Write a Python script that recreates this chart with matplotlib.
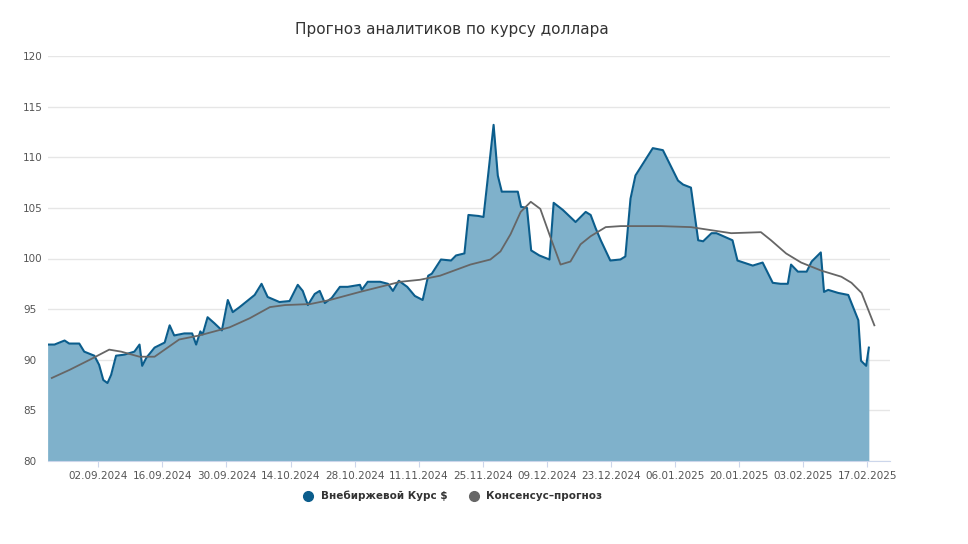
import numpy as np
import matplotlib.pyplot as plt
from matplotlib.lines import Line2D

# dates as day offsets from 2024-09-02
rate_days = [-11.1, -9.6, -7.4, -6.4, -4.2, -3.1, -0.9, 0.2, 1.1, 2.0, 2.8, 3.9, 5.7, 7.9, 9.0, 9.6,
             10.5, 12.3, 14.5, 15.6, 16.6, 18.8, 20.5, 21.4, 22.3, 22.8, 23.9, 25.4, 27.0, 28.3, 29.4,
             30.9, 34.2, 35.7, 37.0, 39.6, 41.8, 43.6, 44.7, 45.8, 47.3, 48.4, 49.5, 51.0, 52.8, 54.5,
             57.2, 57.6, 58.9, 61.6, 63.3, 64.4, 65.7, 67.5, 69.2, 70.9, 72.1, 72.9, 74.9, 77.1, 78.2,
             80.0, 80.9, 83.1, 84.2, 85.3, 86.4, 87.3, 88.2, 91.7, 92.4, 93.7, 94.6, 96.4, 98.6, 99.5,
             101.5, 104.3, 106.5, 107.6, 108.7, 109.8, 111.9, 114.1, 115.2, 116.3, 117.4, 121.2, 123.4,
             126.7, 127.8, 129.5, 131.1, 132.2, 134.0, 135.1, 138.6, 139.7, 143.0, 145.2, 147.4, 149.1,
             150.7, 151.4, 152.9, 154.8, 155.9, 157.9, 158.6, 159.5, 161.7, 163.9, 166.1, 166.7, 167.8,
             168.4, 169.3]
rate = [91.5, 91.5, 91.9, 91.6, 91.6, 90.8, 90.4, 89.5, 88.0, 87.7, 88.5, 90.4, 90.5, 90.8, 91.5,
        89.4, 90.2, 91.2, 91.7, 93.4, 92.4, 92.6, 92.6, 91.5, 92.8, 92.5, 94.2, 93.6, 92.9, 95.9,
        94.7, 95.2, 96.4, 97.5, 96.2, 95.7, 95.8, 97.4, 96.8, 95.4, 96.5, 96.8, 95.6, 96.1, 97.2,
        97.2, 97.4, 96.9, 97.7, 97.7, 97.5, 96.8, 97.8, 97.2, 96.3, 95.9, 98.3, 98.5, 99.9, 99.8,
        100.3, 100.5, 104.3, 104.2, 104.1, 108.7, 113.2, 108.2, 106.6, 106.6, 105.1, 105.0, 100.8,
        100.3, 99.9, 105.5, 104.8, 103.6, 104.6, 104.3, 103.0, 101.8, 99.8, 99.9, 100.2, 105.9,
        108.2, 110.9, 110.7, 107.7, 107.3, 107.0, 101.8, 101.7, 102.5, 102.5, 101.8, 99.8, 99.3,
        99.6, 97.6, 97.5, 97.5, 99.4, 98.7, 98.7, 99.7, 100.6, 96.7, 96.9, 96.6, 96.4, 93.9, 89.9,
        89.4, 91.2]

cons_days = [-10.2, -6.3, -1.9, 2.4, 5.0, 9.0, 12.3, 14.5, 17.7, 22.1, 28.7, 33.1, 37.5, 40.8, 46.3,
             50.6, 57.2, 61.6, 66.0, 70.3, 74.7, 81.3, 85.7, 87.9, 90.1, 92.3, 94.5, 96.6, 98.8, 101.0,
             103.2, 105.4, 107.6, 110.9, 114.2, 122.9, 129.5, 133.9, 138.3, 144.8, 147.0, 150.3, 153.6,
             158.0, 162.4, 164.6, 166.8, 169.6]
consensus = [88.2, 89.0, 90.0, 91.0, 90.8, 90.3, 90.3, 91.0, 92.0, 92.4, 93.2, 94.1, 95.2, 95.4, 95.5,
             95.9, 96.7, 97.2, 97.7, 97.9, 98.3, 99.4, 99.9, 100.7, 102.4, 104.6, 105.6, 104.9, 102.1,
             99.4, 99.7, 101.4, 102.2, 103.1, 103.2, 103.2, 103.1, 102.8, 102.5, 102.6, 101.8, 100.5,
             99.6, 98.8, 98.2, 97.6, 96.6, 93.4]

tick_labels = ["02.09.2024", "16.09.2024", "30.09.2024", "14.10.2024", "28.10.2024", "11.11.2024",
               "25.11.2024", "09.12.2024", "23.12.2024", "06.01.2025", "20.01.2025", "03.02.2025",
               "17.02.2025"]

n = min(len(rate_days), len(rate))
rate_days, rate = rate_days[:n], rate[:n]

base = np.datetime64("2024-09-02")
rd = base + (np.array(rate_days) * 24).astype("timedelta64[h]")
cd = base + (np.array(cons_days) * 24).astype("timedelta64[h]")
ticks = [np.datetime64("-".join(t.split(".")[::-1])) for t in tick_labels]

fig = plt.figure(figsize=(9.68, 5.44), dpi=100)
ax = fig.add_axes([48 / 968, 83 / 544, 842 / 968, 405 / 544])

blue = "#0b5d8c"
ax.fill_between(rd, 80, rate, color="#7fb1cb", lw=0)
ax.plot(rd, rate, color=blue, lw=1.5)
ax.plot(cd, consensus, color="#666666", lw=1.3)

ax.set_ylim(80, 120)
ax.set_yticks(range(80, 121, 5))
ax.set_xlim(base - np.timedelta64(11, "D"), base + np.timedelta64(173, "D"))
ax.set_xticks(ticks)
ax.set_xticklabels(tick_labels)
ax.grid(axis="y", color="#e6e6e6", lw=1)
ax.set_axisbelow(True)
for s in ["top", "right", "left"]:
    ax.spines[s].set_visible(False)
ax.spines["bottom"].set_color("#ccd6eb")
ax.tick_params(axis="y", length=0, labelsize=7.5, colors="#555555", pad=18)
ax.tick_params(axis="x", length=4, color="#ccd6eb", labelsize=7.5, colors="#555555")
for lab in ax.get_yticklabels():
    lab.set_horizontalalignment("left")

fig.text(0.467, 0.945, "Прогноз аналитиков по курсу доллара", ha="center", va="center",
         fontsize=11, color="#333333")

handles = [Line2D([], [], marker="o", ls="", color=blue, markersize=7),
           Line2D([], [], marker="o", ls="", color="#666666", markersize=7)]
fig.legend(handles, ["Внебиржевой Курс $", "Консенсус–прогноз"], loc="center",
           bbox_to_anchor=(0.465, 0.088), ncol=2, frameon=False, handletextpad=0.2,
           columnspacing=1.5, prop={"size": 7.5, "weight": "bold"}, labelcolor="#333333")

fig.savefig("out.png", dpi=100, facecolor="white")
